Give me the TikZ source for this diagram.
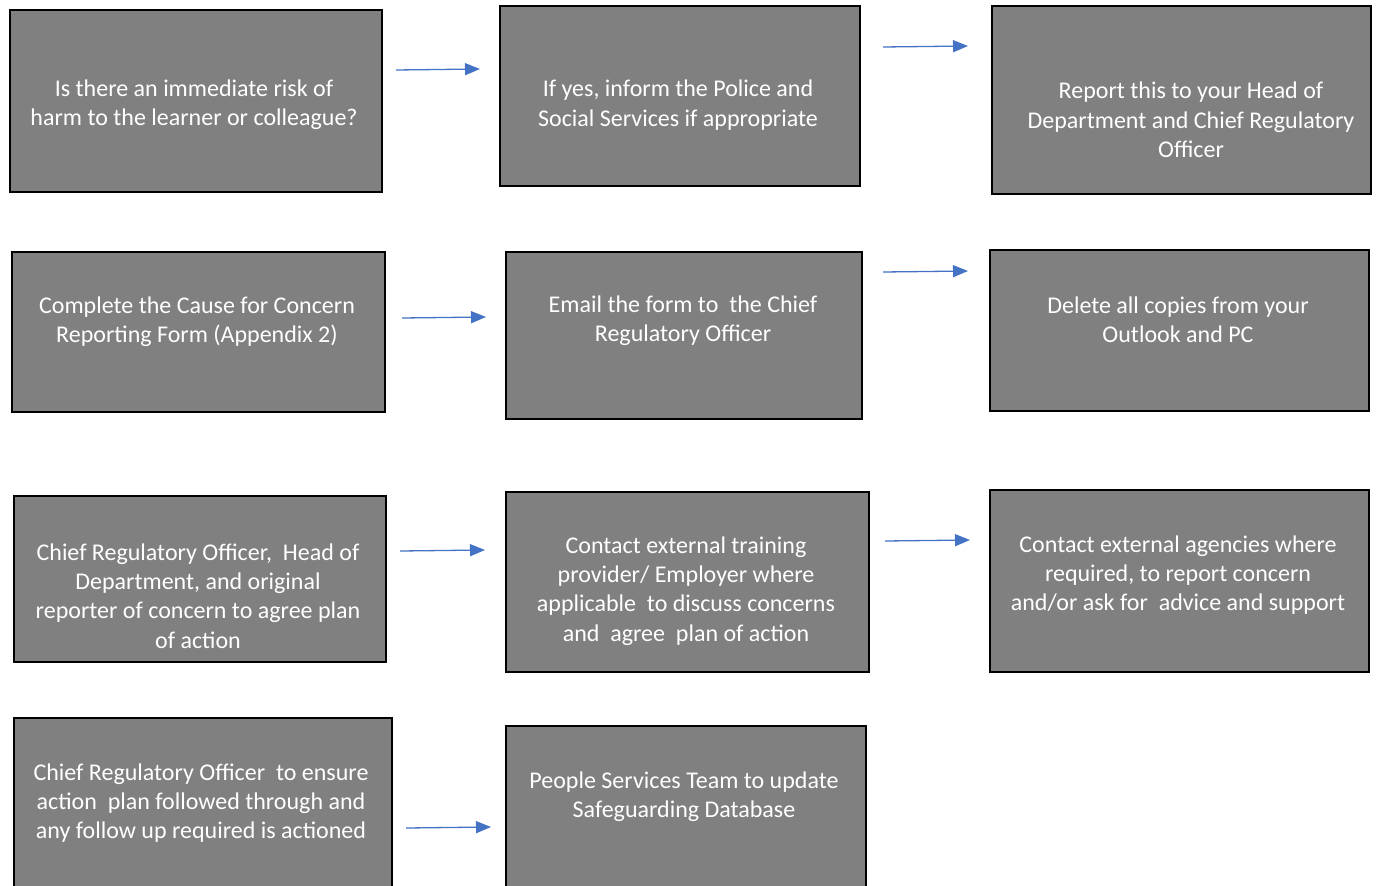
\documentclass[tikz,border=0pt]{standalone}
\usepackage{fontspec}
\setmainfont{Carlito}
\usetikzlibrary{arrows.meta}
\definecolor{boxgray}{HTML}{808080}
\definecolor{arrblue}{HTML}{4472C4}
\tikzset{
  box/.style={draw=black, line width=1.6pt, fill=boxgray, anchor=north west, inner sep=0pt},
  txt/.style={text=white, align=center, font=\fontsize{24}{29.3}\selectfont, inner sep=0pt},
  arr/.style={draw=arrblue, line width=1.3pt, -{Triangle[length=15pt,width=12pt]}}
}
\begin{document}
\begin{tikzpicture}[x=1pt,y=-1pt]
\useasboundingbox (0,0) rectangle (1379,886);
% boxes
\node[box, minimum width=372pt, minimum height=182pt] (b1) at (9,9) {};
\node[box, minimum width=360pt, minimum height=180pt] (b2) at (499,5) {};
\node[box, minimum width=379pt, minimum height=188pt] (b3) at (991,5) {};
\node[box, minimum width=373pt, minimum height=160pt] (b4) at (11,251) {};
\node[box, minimum width=356pt, minimum height=167pt] (b5) at (505,251) {};
\node[box, minimum width=379pt, minimum height=161pt] (b6) at (989,249) {};
\node[box, minimum width=372pt, minimum height=166pt] (b7) at (13,495) {};
\node[box, minimum width=363pt, minimum height=180pt] (b8) at (505,491) {};
\node[box, minimum width=379pt, minimum height=182pt] (b9) at (989,489) {};
\node[box, minimum width=378pt, minimum height=190pt] (b10) at (13,717) {};
\node[box, minimum width=360pt, minimum height=180pt] (b11) at (505,725) {};
% texts
\node[txt] (t1) at (194,105) {Is there an immediate risk of\\harm to the learner or colleague?};
\node[txt] (t2) at (678,105) {If yes, inform the Police and\\Social Services if appropriate};
\node[txt] (t3) at (1191,120) {Report this to your Head of\\Department and Chief Regulatory\\Officer};
\node[txt] (t4) at (197,322) {Complete the Cause for Concern\\Reporting Form (Appendix 2)};
\node[txt] (t5) at (683,321) {Email the form to~~the Chief\\Regulatory Officer};
\node[txt] (t6) at (1178,320) {Delete all copies from your\\Outlook and PC};
\node[txt] (t7) at (198,596) {Chief Regulatory Officer,~~Head of\\Department, and original\\reporter of concern to agree plan\\of action};
\node[txt] (t8) at (686,591) {Contact external training\\provider/ Employer where\\applicable~~to discuss concerns\\and~~agree~~plan of action};
\node[txt] (t9) at (1178,575) {Contact external agencies where\\required, to report concern\\and/or ask for~~advice and support};
\node[txt] (t10) at (201,803) {Chief Regulatory Officer~~to ensure\\action~~plan followed through and\\any follow up required is actioned};
\node[txt] (t11) at (684,797) {People Services Team to update\\Safeguarding Database};
% arrow end points
\coordinate (s1) at (396,70);  \coordinate (e1) at (480,69);
\coordinate (s2) at (883,47);  \coordinate (e2) at (968,46);
\coordinate (s3) at (402,318); \coordinate (e3) at (486,317);
\coordinate (s4) at (883,272); \coordinate (e4) at (968,271);
\coordinate (s5) at (400,551); \coordinate (e5) at (485,550);
\coordinate (s6) at (885,541); \coordinate (e6) at (970,540);
\coordinate (s7) at (406,828); \coordinate (e7) at (491,827);
\draw[arr] (s1) -- (e1);
\draw[arr] (s2) -- (e2);
\draw[arr] (s3) -- (e3);
\draw[arr] (s4) -- (e4);
\draw[arr] (s5) -- (e5);
\draw[arr] (s6) -- (e6);
\draw[arr] (s7) -- (e7);
\end{tikzpicture}
\end{document}
